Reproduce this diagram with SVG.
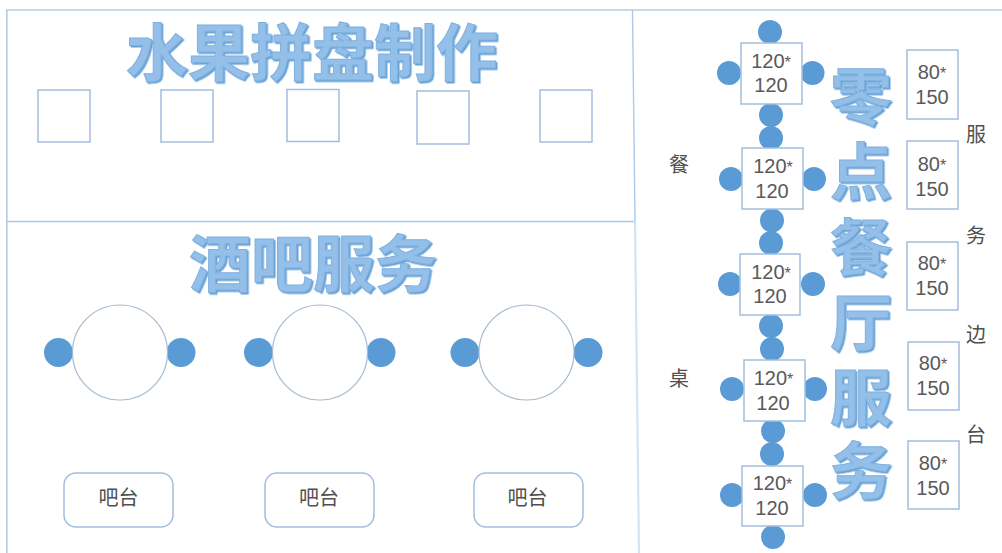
<svg xmlns="http://www.w3.org/2000/svg" width="1002" height="553" viewBox="0 0 1002 553">
<style>
.frame{fill:none;stroke:#b4cbe2;stroke-width:1.6}
.inner{fill:none;stroke:#abc9e8;stroke-width:1.4}
.fade{fill:none;stroke:#d3e4f5;stroke-width:2.2}
.box{fill:#fff;stroke:#a3bedb;stroke-width:1.5}
.dot{fill:#5b9bd5}
.round{fill:#fff;stroke:#a3bad0;stroke-width:1.2}
.t{font-family:"Liberation Sans",sans-serif;font-size:20px;fill:#595959;text-anchor:middle}
.a{font-size:16px}
.c{font-family:"Noto Sans CJK SC",sans-serif;font-size:20px;fill:#505050;text-anchor:middle}
.title{font-family:"Noto Sans CJK SC",sans-serif;font-weight:700;font-size:62px;fill:#93bfe8;stroke:#7fb1e0;stroke-width:1;text-anchor:middle;filter:url(#sh)}
</style>
<defs>
<filter id="sh" x="-10%" y="-10%" width="120%" height="120%"><feGaussianBlur in="SourceGraphic" stdDeviation="0.4" result="b"/><feDropShadow in="b" dx="1.5" dy="1.5" stdDeviation="0.6" flood-color="#5b9bd5" flood-opacity="0.95"/></filter>
</defs>
<rect width="1002" height="553" fill="#fff"/>
<g id="connectors">
<path class="frame" d="M6.800 553V10H1002"/>
<path class="inner" d="M7 221.500H635M632.500 10L635 221"/>
<path class="fade" d="M635 221L639 553"/>
</g>
<g id="title-fruit"><text class="title" x="312" y="76">水果拼盘制作</text></g>
<g id="fruit-1"><rect class="box" x="38" y="90" width="52" height="52"/></g>
<g id="fruit-2"><rect class="box" x="161" y="90" width="52" height="52"/></g>
<g id="fruit-3"><rect class="box" x="287" y="89.500" width="52" height="52"/></g>
<g id="fruit-4"><rect class="box" x="417" y="91" width="52" height="53"/></g>
<g id="fruit-5"><rect class="box" x="540" y="90" width="52" height="52"/></g>
<g id="title-bar"><text class="title" x="313" y="287">酒吧服务</text></g>
<g id="bar-table-1"><circle class="dot" cx="58.500" cy="352.500" r="14.500"/><circle class="dot" cx="181" cy="352.500" r="14.500"/><circle class="round" cx="120" cy="352.500" r="47.500"/></g>
<g id="bar-table-2"><circle class="dot" cx="258.500" cy="352.500" r="14.500"/><circle class="dot" cx="381" cy="352.500" r="14.500"/><circle class="round" cx="320" cy="352.500" r="47.500"/></g>
<g id="bar-table-3"><circle class="dot" cx="465" cy="352.500" r="14.500"/><circle class="dot" cx="588" cy="352.500" r="14.500"/><circle class="round" cx="526.500" cy="352.500" r="47.500"/></g>
<g id="bar-1"><rect class="box" x="64" y="473" width="109" height="54" rx="12"/><text class="c" x="118.500" y="505">吧台</text></g>
<g id="bar-2"><rect class="box" x="265" y="473" width="109" height="54" rx="12"/><text class="c" x="319" y="505">吧台</text></g>
<g id="bar-3"><rect class="box" x="474" y="473" width="109" height="54" rx="12"/><text class="c" x="527.500" y="505">吧台</text></g>
<g id="title-snack"><text class="title" x="861" y="120">零<tspan x="861" y="195">点</tspan><tspan x="861" y="271">餐</tspan><tspan x="861" y="346">厅</tspan><tspan x="861" y="421">服</tspan><tspan x="861" y="494">务</tspan></text></g>
<g id="table-1"><circle class="dot" cx="770" cy="32" r="12"/><circle class="dot" cx="729" cy="73" r="12"/><circle class="dot" cx="812.500" cy="73" r="12"/><circle class="dot" cx="771" cy="115" r="12"/><rect class="box" x="741" y="43" width="61" height="61"/><text class="t" x="771" y="68">120<tspan class="a">*</tspan></text><text class="t" x="771" y="92">120</text></g>
<g id="table-2"><circle class="dot" cx="771" cy="138" r="12"/><circle class="dot" cx="731" cy="179" r="12"/><circle class="dot" cx="814" cy="179" r="12"/><circle class="dot" cx="772" cy="220.500" r="12"/><rect class="box" x="742" y="148" width="61" height="61"/><text class="t" x="773" y="173">120<tspan class="a">*</tspan></text><text class="t" x="772" y="198">120</text></g>
<g id="table-3"><circle class="dot" cx="771" cy="243" r="12"/><circle class="dot" cx="730" cy="284" r="12"/><circle class="dot" cx="813" cy="284" r="12"/><circle class="dot" cx="771" cy="326" r="12"/><rect class="box" x="740" y="254" width="60" height="61"/><text class="t" x="771" y="279">120<tspan class="a">*</tspan></text><text class="t" x="770" y="303">120</text></g>
<g id="table-4"><circle class="dot" cx="772" cy="349" r="12"/><circle class="dot" cx="732" cy="389" r="12"/><circle class="dot" cx="815" cy="389" r="12"/><circle class="dot" cx="773" cy="431" r="12"/><rect class="box" x="744" y="360" width="61" height="61"/><text class="t" x="773.500" y="385">120<tspan class="a">*</tspan></text><text class="t" x="773" y="410">120</text></g>
<g id="table-5"><circle class="dot" cx="772" cy="454" r="12"/><circle class="dot" cx="732" cy="495" r="12"/><circle class="dot" cx="815" cy="495" r="12"/><circle class="dot" cx="773" cy="537" r="12"/><rect class="box" x="742" y="466" width="61" height="60"/><text class="t" x="772.500" y="490">120<tspan class="a">*</tspan></text><text class="t" x="772" y="515">120</text></g>
<g id="side-1"><rect class="box" x="907" y="50" width="51" height="69"/><text class="t" x="932" y="79">80<tspan class="a">*</tspan></text><text class="t" x="932" y="104">150</text></g>
<g id="side-2"><rect class="box" x="907" y="141" width="51" height="68"/><text class="t" x="932" y="171">80<tspan class="a">*</tspan></text><text class="t" x="932" y="196">150</text></g>
<g id="side-3"><rect class="box" x="907" y="242" width="51" height="68"/><text class="t" x="932" y="270">80<tspan class="a">*</tspan></text><text class="t" x="932" y="295">150</text></g>
<g id="side-4"><rect class="box" x="908" y="342" width="51" height="68"/><text class="t" x="933" y="370">80<tspan class="a">*</tspan></text><text class="t" x="933" y="395">150</text></g>
<g id="side-5"><rect class="box" x="908" y="441" width="51" height="68"/><text class="t" x="933" y="470">80<tspan class="a">*</tspan></text><text class="t" x="933" y="495">150</text></g>
<g id="label-dining"><text class="c" x="679" y="171.500">餐</text><text class="c" x="679" y="386">桌</text></g>
<g id="label-service"><text class="c" x="976" y="142">服</text><text class="c" x="976" y="243">务</text><text class="c" x="976" y="342">边</text><text class="c" x="976" y="442">台</text></g>
</svg>
